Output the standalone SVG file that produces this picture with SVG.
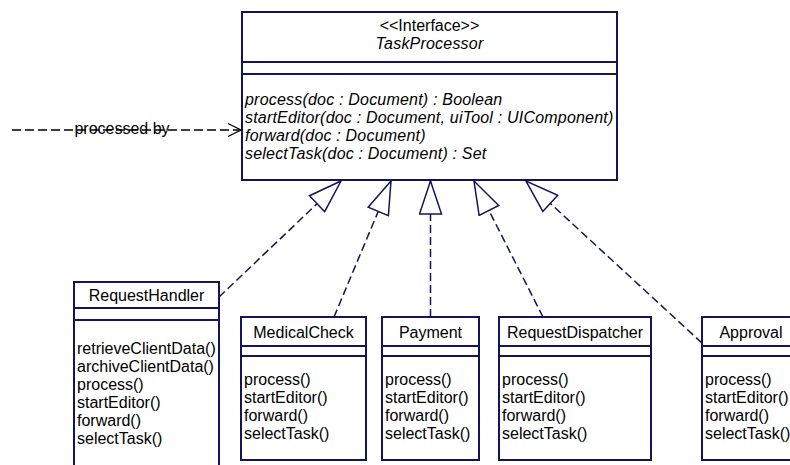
<svg xmlns="http://www.w3.org/2000/svg" width="790" height="465" viewBox="0 0 790 465">
<style>
.box rect{fill:#fff;stroke:#14145a;stroke-width:2}
.box line{stroke:#14145a;stroke-width:2}
text{font-family:"Liberation Sans",Arial,sans-serif;font-size:16px;fill:#000}
.it{font-style:italic;letter-spacing:0.2px}
.c{text-anchor:middle}
.real{stroke:#14145a;stroke-width:1.5;stroke-dasharray:8 4;fill:none;marker-end:url(#tri)}
.dep{stroke:#000;stroke-width:1.3;stroke-dasharray:9 4;fill:none}
.head{stroke:#000;stroke-width:1.3;fill:none}
</style>
<defs>
<marker id="tri" markerUnits="userSpaceOnUse" viewBox="-1 -1 35 24" refX="33" refY="11" markerWidth="35" markerHeight="24" orient="auto">
<path d="M0,0 L33,11 L0,22 Z" fill="#fff" stroke="#14145a" stroke-width="1.5" stroke-dasharray="none"/>
</marker>
</defs>
<rect width="790" height="465" fill="#fff"/>

<g id="connectors">
<path class="real" d="M219,297 L341,181"/>
<path class="real" d="M334,317 L391,181"/>
<path class="real" d="M430.5,317 L430.5,181"/>
<path class="real" d="M543,317 L474,181"/>
<path class="real" d="M702,343 L526,181"/>
<g id="processed-by">
<path class="dep" d="M12,130 L240,130"/>
<path class="head" d="M228,123.5 L241,130 L228,136.5"/>
<text x="122" y="134" class="c">processed by</text>
</g>
</g>

<g id="TaskProcessor" class="box">
<rect x="242" y="12" width="375" height="168"/>
<line x1="242" y1="62" x2="617" y2="62"/>
<line x1="242" y1="74" x2="617" y2="74"/>
<text x="429.5" y="30.5" class="c">&lt;&lt;Interface&gt;&gt;</text>
<text x="429.5" y="48.5" class="c it">TaskProcessor</text>
<text x="245" y="104.5" class="it">process(doc : Document) : Boolean</text>
<text x="245" y="122.5" class="it">startEditor(doc : Document, uiTool : UIComponent)</text>
<text x="245" y="140.5" class="it">forward(doc : Document)</text>
<text x="245" y="158.5" class="it">selectTask(doc : Document) : Set</text>
</g>

<g id="RequestHandler" class="box">
<rect x="74" y="282" width="145" height="200"/>
<line x1="74" y1="308" x2="219" y2="308"/>
<line x1="74" y1="320" x2="219" y2="320"/>
<text x="146.5" y="301" class="c">RequestHandler</text>
<text x="77" y="353.5">retrieveClientData()</text>
<text x="77" y="371.5">archiveClientData()</text>
<text x="77" y="389.5">process()</text>
<text x="77" y="407.5">startEditor()</text>
<text x="77" y="425.5">forward()</text>
<text x="77" y="443.5">selectTask()</text>
</g>

<g id="MedicalCheck" class="box">
<rect x="241" y="317" width="125" height="143"/>
<line x1="241" y1="346" x2="366" y2="346"/>
<line x1="241" y1="356" x2="366" y2="356"/>
<text x="303.5" y="337.5" class="c">MedicalCheck</text>
<text x="244" y="384.5">process()</text>
<text x="244" y="402.5">startEditor()</text>
<text x="244" y="420.5">forward()</text>
<text x="244" y="438.5">selectTask()</text>
</g>

<g id="Payment" class="box">
<rect x="382" y="317" width="97" height="143"/>
<line x1="382" y1="346" x2="479" y2="346"/>
<line x1="382" y1="356" x2="479" y2="356"/>
<text x="430.5" y="337.5" class="c">Payment</text>
<text x="385" y="384.5">process()</text>
<text x="385" y="402.5">startEditor()</text>
<text x="385" y="420.5">forward()</text>
<text x="385" y="438.5">selectTask()</text>
</g>

<g id="RequestDispatcher" class="box">
<rect x="499" y="317" width="152" height="143"/>
<line x1="499" y1="346" x2="651" y2="346"/>
<line x1="499" y1="356" x2="651" y2="356"/>
<text x="575" y="337.5" class="c">RequestDispatcher</text>
<text x="502" y="384.5">process()</text>
<text x="502" y="402.5">startEditor()</text>
<text x="502" y="420.5">forward()</text>
<text x="502" y="438.5">selectTask()</text>
</g>

<g id="Approval" class="box">
<rect x="702" y="317" width="98" height="143"/>
<line x1="702" y1="346" x2="800" y2="346"/>
<line x1="702" y1="356" x2="800" y2="356"/>
<text x="751" y="337.5" class="c">Approval</text>
<text x="705" y="384.5">process()</text>
<text x="705" y="402.5">startEditor()</text>
<text x="705" y="420.5">forward()</text>
<text x="705" y="438.5">selectTask()</text>
</g>
</svg>
